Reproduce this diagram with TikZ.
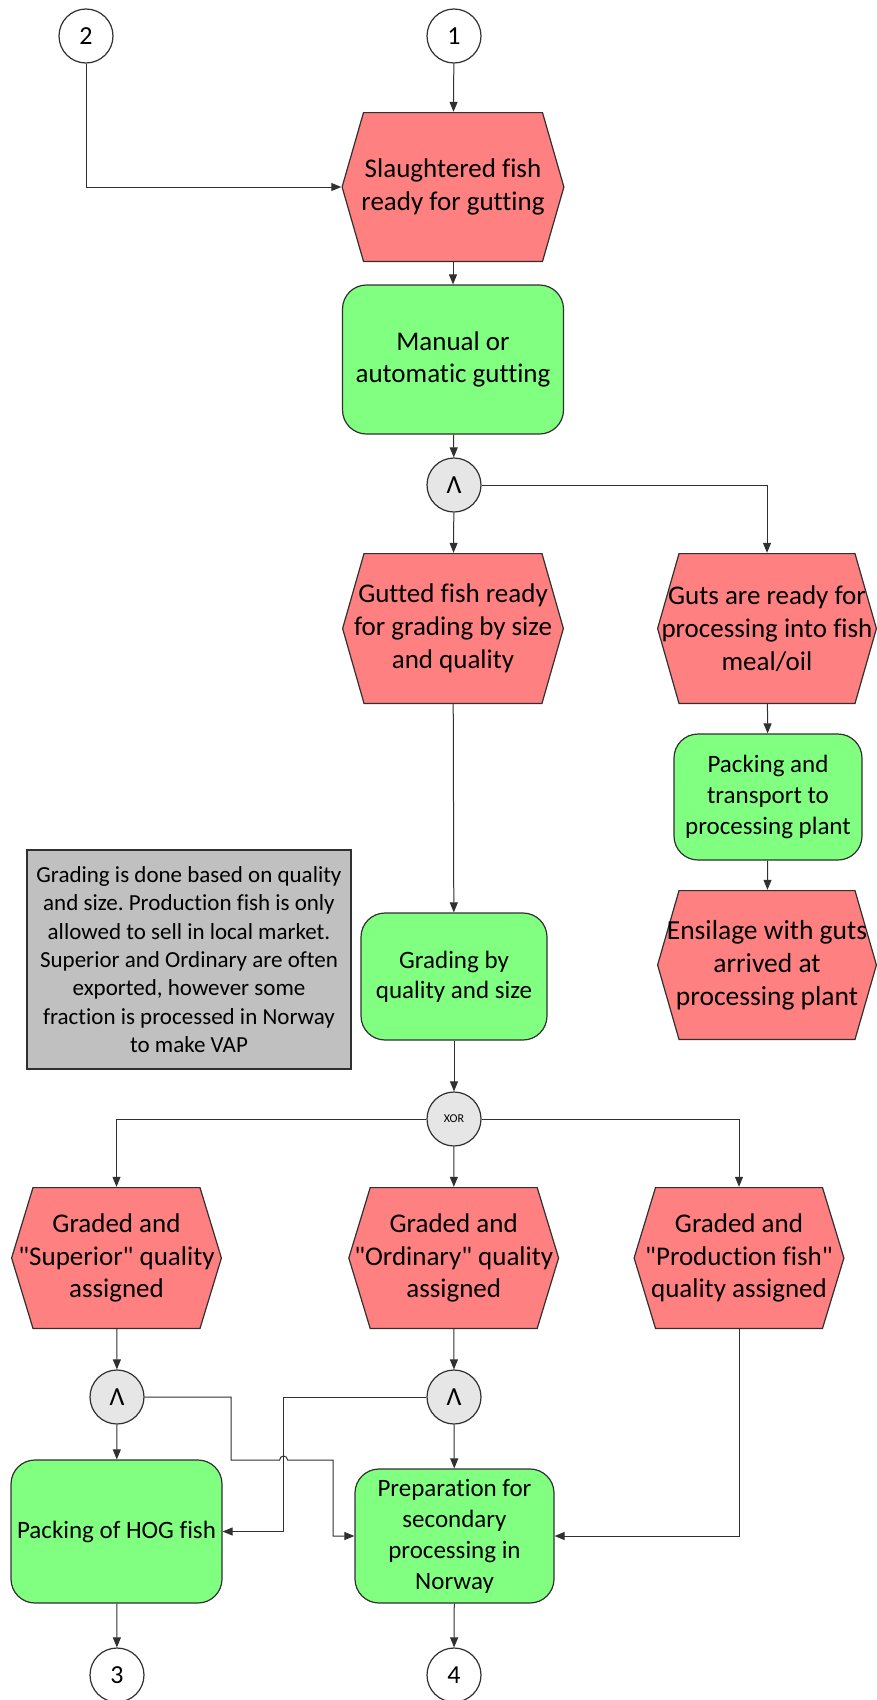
\documentclass[tikz,border=0pt]{standalone}
\usepackage{fontspec}
\setmainfont{Carlito}[Ligatures={TeXOff,CommonOff}]
\usetikzlibrary{arrows.meta,calc}
\definecolor{evred}{HTML}{FF8080}
\definecolor{fngreen}{HTML}{80FF80}
\definecolor{gwgray}{HTML}{E6E6E6}
\definecolor{notegray}{HTML}{C0C0C0}
\definecolor{edge}{HTML}{303030}
\frenchspacing

\begin{document}
\begin{tikzpicture}[x=1pt,y=-1pt,
  every node/.style={font=\fontsize{27}{33}\selectfont, align=center, inner sep=0pt},
  % event: hexagon with flat top and bottom, pointed sides
  event/.style={rectangle, minimum width=#1, minimum height=150pt,
    path picture={
      \filldraw[fill=evred, draw=edge, line width=1.2pt]
        ([xshift=0.6pt]path picture bounding box.west)
        -- ([shift={(22pt,-0.6pt)}]path picture bounding box.north west)
        -- ([shift={(-22pt,-0.6pt)}]path picture bounding box.north east)
        -- ([xshift=-0.6pt]path picture bounding box.east)
        -- ([shift={(-22pt,0.6pt)}]path picture bounding box.south east)
        -- ([shift={(22pt,0.6pt)}]path picture bounding box.south west)
        -- cycle;}},
  event/.default=222pt,
  func/.style={rectangle, draw=edge, fill=fngreen, line width=1.2pt, rounded corners=24pt},
  gate/.style={circle, draw=edge, fill=gwgray, line width=1.2pt, minimum size=54pt,
    font=\fontsize{26}{30}\selectfont},
  conn/.style={circle, draw=edge, fill=white, line width=1.2pt, minimum size=54pt,
    font=\fontsize{26}{30}\selectfont},
  note/.style={rectangle, draw=edge, fill=notegray, line width=1.2pt,
    font=\fontsize{23}{28.3}\selectfont},
  flow/.style={draw=edge, line width=1pt, -{Triangle[length=10pt,width=8pt]}}
]
\useasboundingbox (0,0) rectangle (877,1700);

% off-page connectors
\node[conn] (c2) at (86,36) {2};
\node[conn] (c1) at (454,36) {1};
\node[conn] (c3) at (117,1675) {3};
\node[conn] (c4) at (454,1675) {4};

% main column
\node[event=223pt] (e1) at (453,187) {Slaughtered fish\\ready for gutting};
\node[func, minimum width=221pt, minimum height=149pt, font=\fontsize{27}{32.5}\selectfont]
  (f1) at (453,359.5) {Manual or\\automatic gutting};
\node[gate] (g1) at (454,485) {Λ};
\node[event=222pt, minimum height=151pt] (e2) at (453,628.5) {Gutted fish ready\\for grading by size\\and quality};
\node[func, minimum width=186pt, minimum height=127pt, font=\fontsize{25}{30}\selectfont]
  (f3) at (454,976.5) {Grading by\\quality and size};
\node[gate, font=\fontsize{12}{14}\selectfont] (x1) at (454,1119) {XOR};

% guts branch
\node[event=220pt, minimum height=151pt] (e3) at (767,628.5) {Guts are ready for\\processing into fish\\meal/oil};
\node[func, minimum width=188pt, minimum height=126pt, font=\fontsize{25}{30.8}\selectfont]
  (f2) at (768,797) {Packing and\\transport to\\processing plant};
\node[event=220pt, font=\fontsize{27.5}{33}\selectfont] (e4) at (767,965) {Ensilage with guts\\arrived at\\processing plant};

% remark
\node[note, minimum width=324pt, minimum height=219pt] (n1) at (189,959.5)
  {Grading is done based on quality\\and size. Production fish is only\\allowed to sell in local market.\\Superior and Ordinary are often\\exported, however some\\fraction is processed in Norway\\to make VAP};

% grading outcomes
\node[event=211pt, minimum height=142pt, font=\fontsize{27}{32.5}\selectfont]
  (e5) at (116.5,1258) {Graded and\\"Superior" quality\\assigned};
\node[event=211pt, minimum height=142pt, font=\fontsize{27}{32.5}\selectfont]
  (e6) at (453.7,1258) {Graded and\\"Ordinary" quality\\assigned};
\node[event=211pt, minimum height=142pt, font=\fontsize{27}{32.5}\selectfont]
  (e7) at (739,1258) {Graded and\\"Production fish"\\quality assigned};

\node[gate] (gL) at (117,1397) {Λ};
\node[gate] (gR) at (454,1397) {Λ};

\node[func, minimum width=211pt, minimum height=143pt, font=\fontsize{25}{31}\selectfont]
  (f4) at (116.5,1531.5) {Packing of HOG fish};
\node[func, minimum width=199pt, minimum height=134pt, font=\fontsize{25}{31}\selectfont]
  (f5) at (454.5,1536) {Preparation for\\secondary\\processing in\\Norway};

% flows
\draw[flow] (c1) -- (e1);
\draw[flow] (c2) |- (e1.west);
\draw[flow] (e1) -- (f1);
\draw[flow] (f1) -- (g1);
\draw[flow] (g1) -- (e2);
\draw[flow] (g1) -| (e3);
\draw[flow] (e3) -- (f2);
\draw[flow] (f2) -- (e4);
\draw[flow] (e2) -- (f3);
\draw[flow] (f3) -- (x1);
\draw[flow] (x1) -| (e5);
\draw[flow] (x1) -- (e6);
\draw[flow] (x1) -| (e7);
\draw[flow] (e5) -- (gL);
\draw[flow] (e6) -- (gR);
\draw[flow] (gL) -- (f4);
\draw[flow] (gR) -- (f5);
\draw[flow] (f4) -- (c3);
\draw[flow] (f5) -- (c4);
\draw[flow] (e7) |- (f5.east);
\draw[flow] (gR.west) -- (283.6,1397) |- (f4.east);
\draw[flow] (gL.east) -- (231,1397) -- (231,1460) -- (279.6,1460)
  arc[start angle=180, end angle=0, radius=4pt] -- (333,1460) |- (f5.west);
\end{tikzpicture}
\end{document}
